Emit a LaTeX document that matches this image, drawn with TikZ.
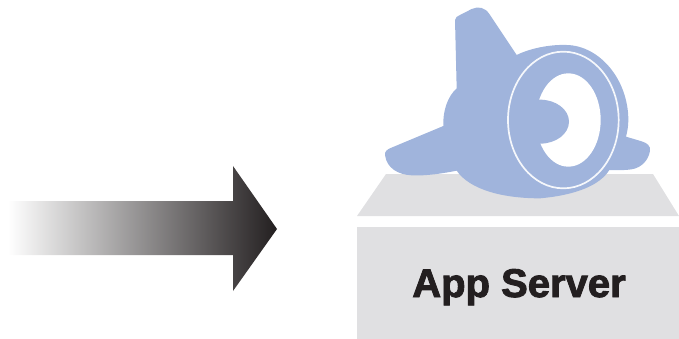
\documentclass[tikz,border=0pt]{standalone}
\usepackage{fontspec}
\setmainfont{Liberation Sans}
\newfontfamily\heavyfont[FakeBold=2.2]{Liberation Sans Bold}
\definecolor{bodyblue}{HTML}{A0B4DC}
\definecolor{boxgray}{HTML}{E0E0E2}
\definecolor{inkdark}{HTML}{231F20}
\tikzset{
  boxfill/.style={fill=boxgray,draw=none},
  blue fill/.style={fill=bodyblue,draw=none},
  white fill/.style={fill=white,draw=none},
  label text/.style={font=\heavyfont\fontsize{40}{48}\selectfont,text=inkdark,inner sep=0pt,anchor=base}
}
\begin{document}
\begin{tikzpicture}[x=1pt,y=-1pt]
\useasboundingbox (0,0) rectangle (679,339);
% arrow
\shade[left color=white,right color=inkdark,shading angle=90,middle color=white!50!inkdark]
  (8,201) -- (233,201) -- (233,166) -- (277,229) -- (233,291) -- (233,255) -- (8,255) -- cycle;
% server
\fill[boxfill] (386,174) -- (653,174) -- (679,216) -- (357,216) -- cycle;
\fill[boxfill] (357,227) rectangle (679,339);
\node[label text] (label) at (519,297) {App Server};
% logo
\begin{scope}[shift={(370,0)},x=0.33333pt,y=-0.33333pt]
\fill[blue fill]
  (255,60) .. controls (256,52) and (262,48) .. (270,45)
  -- (305,27) .. controls (325,18) and (345,22) .. (358,42)
  -- (440,165)
  .. controls (480,145) and (540,133) .. (590,135)
  .. controls (690,137) and (775,240) .. (775,360)
  .. controls (775,378) and (772,395) .. (768,410)
  -- (815,424) .. controls (832,429) and (842,438) .. (840,452)
  .. controls (836,480) and (815,503) .. (785,508)
  .. controls (765,511) and (740,511) .. (718,510)
  .. controls (690,555) and (620,585) .. (510,595)
  .. controls (400,595) and (300,570) .. (260,512)
  .. controls (220,520) and (170,528) .. (125,526)
  .. controls (85,524) and (50,505) .. (45,465)
  .. controls (44,455) and (50,449) .. (62,444)
  -- (220,378)
  .. controls (218,335) and (232,290) .. (260,265)
  -- cycle;
\draw[white,opacity=0.9,line width=1.7pt] (580,360) ellipse [x radius=166,y radius=205];
\fill[white fill] (595,360) ellipse [x radius=97,y radius=140];
\fill[blue fill] (510,365) ellipse [x radius=87,y radius=66];
\end{scope}
\end{tikzpicture}
\end{document}
